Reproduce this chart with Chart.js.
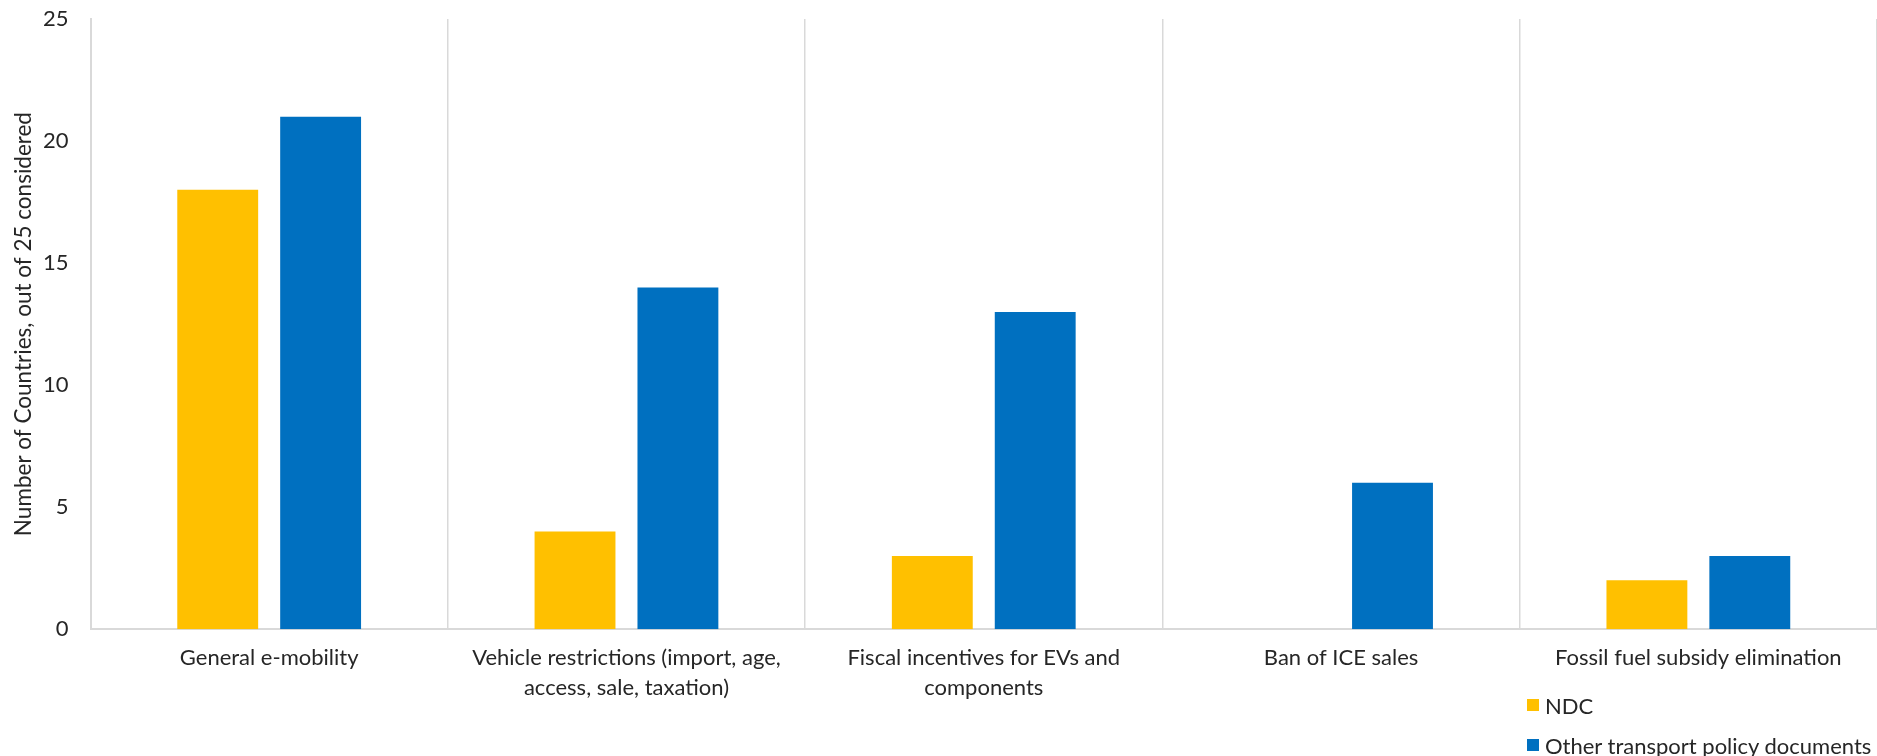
<!DOCTYPE html>
<html>
<head>
<meta charset="utf-8">
<script src="https://cdn.jsdelivr.net/npm/chart.js@4.4.0/dist/chart.umd.min.js"></script>
<style>
  html, body { margin: 0; padding: 0; background: #fff; overflow: hidden; }
  #wrap { position: relative; width: 1877px; height: 756px; overflow: hidden; }
  #legend {
    position: absolute; left: 1527px; top: 685px; white-space: nowrap;
    font-family: "Lato", sans-serif; font-size: 22px; color: #262626;
  }
  #legend .item { display: flex; align-items: center; height: 40px; }
  #legend .box { width: 12px; height: 12px; margin-right: 6px; }
</style>
</head>
<body>
<div id="wrap">
  <canvas id="chart" width="1877" height="756"></canvas>
  <div id="legend"></div>
</div>
<script>
// Policy coverage across the 25 countries reviewed
const categories = [
  "General e-mobility",
  ["Vehicle restrictions (import, age,", "access, sale, taxation)"],
  ["Fiscal incentives for EVs and", "components"],
  "Ban of ICE sales",
  "Fossil fuel subsidy elimination",
];
const ndcCounts = [18, 4, 3, 0, 2];
const otherDocCounts = [21, 14, 13, 6, 3];
const yTicks = [0, 5, 10, 15, 20, 25];

const FONT = "Lato";
const seriesStyle = [
  { label: "NDC", data: ndcCounts, color: "#FFC000" },
  { label: "Other transport policy documents", data: otherDocCounts, color: "#0070C0" },
];

const ctx = document.getElementById("chart").getContext("2d");
new Chart(ctx, {
  type: "bar",
  data: {
    labels: categories,
    datasets: seriesStyle.map((s) => ({
      label: s.label,
      data: s.data,
      backgroundColor: s.color,
      borderWidth: 0,
      categoryPercentage: 0.576,
      barPercentage: 0.786,
    })),
  },
  options: {
    responsive: false,
    animation: false,
    layout: { padding: { top: 19, right: 0, bottom: 53, left: 10 } },
    plugins: { legend: { display: false }, tooltip: { enabled: false } },
    scales: {
      x: {
        // fit() reserves the tick padding twice; keep it once
        afterFit: (axis) => { axis.height -= axis.options.ticks.padding; },
        grid: {
          offset: true,
          drawTicks: false,
          color: (c) => (c.index === categories.length ? "rgba(0,0,0,0)" : "#d9d9d9"),
          lineWidth: 1.5,
        },
        border: { color: "#d9d9d9", width: 2 },
        ticks: {
          color: "#262626",
          padding: 14,
          maxRotation: 0,
          autoSkip: false,
          font: { family: FONT, size: 22, lineHeight: 1.36 },
        },
      },
      y: {
        min: 0,
        max: 25,
        afterBuildTicks: (axis) => { axis.ticks = yTicks.map((v) => ({ value: v })); },
        // top tick label hangs above the plot; drop the doubled tick padding
        afterFit: (axis) => {
          axis.paddingTop = 0;
          axis.paddingBottom = 0;
          axis.width -= axis.options.ticks.padding;
        },
        grid: { display: false, drawTicks: false },
        border: { color: "#d9d9d9", width: 2 },
        ticks: {
          color: "#262626",
          padding: 22,
          font: { family: FONT, size: 22 },
        },
        title: {
          display: true,
          text: "Number of Countries, out of 25 considered",
          color: "#262626",
          padding: { top: 0, bottom: 6 },
          font: { family: FONT, size: 22.5 },
        },
      },
    },
  },
});

// Legend stacked vertically below the last category
document.getElementById("legend").innerHTML = seriesStyle
  .map((s) => `<div class="item"><span class="box" style="background:${s.color}"></span>${s.label}</div>`)
  .join("");
</script>
</body>
</html>
